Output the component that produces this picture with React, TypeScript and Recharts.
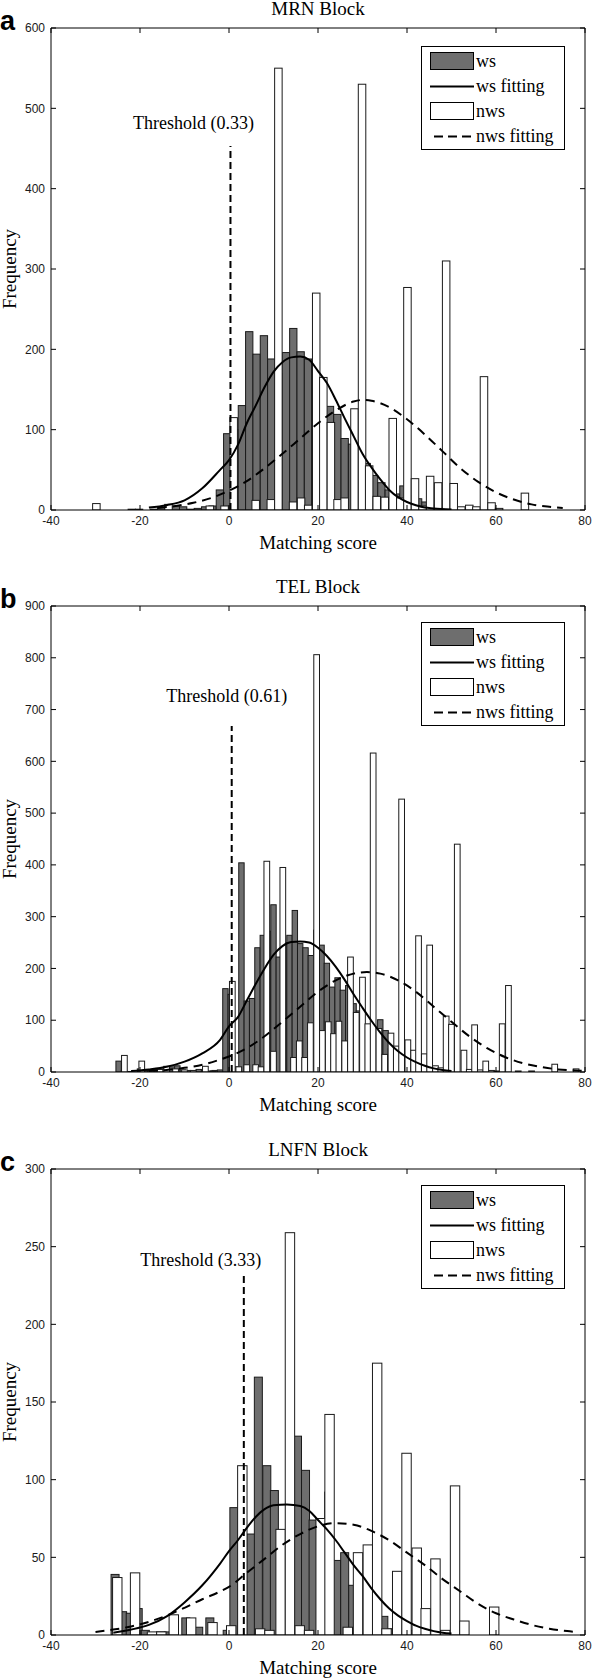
import {
  ComposedChart,
  Bar,
  Line,
  XAxis,
  YAxis,
  ReferenceLine,
  Legend,
} from "recharts";

// shared x ticks
const xTicks = [-40, -20, 0, 20, 40, 60, 80];

// y ticks per block
const mrnTicks = [0, 100, 200, 300, 400, 500, 600];
const telTicks = [0, 100, 200, 300, 400, 500, 600, 700, 800, 900];
const lnfnTicks = [0, 50, 100, 150, 200, 250, 300];

// histogram bins: [bin centre, count]
const mrnWs: [number, number][] = [
  [-21.85, 1], [-20.2, 1], [-16.9, 1], [-15.25, 3], [-13.6, 4], [-11.95, 5], [-10.3, 4],
  [-8.65, 1], [-7.0, 2], [-5.35, 4], [-3.7, 5], [-2.05, 25], [-0.4, 95], [1.25, 100],
  [2.9, 130], [4.55, 222], [6.2, 194], [7.85, 217], [9.5, 188], [11.15, 170], [12.8, 196],
  [14.45, 226], [16.1, 197], [17.75, 188], [19.4, 183], [21.05, 150], [22.7, 129], [24.35, 119],
  [26.0, 89], [27.65, 82], [29.3, 78], [30.95, 58], [32.6, 43], [34.25, 34], [35.9, 25],
  [37.55, 20], [39.2, 30], [40.85, 18], [42.5, 14], [44.15, 10], [45.8, 6], [47.45, 3],
  [49.1, 2], [50.75, 2],
];
const mrnNws: [number, number][] = [
  [-29.8, 8], [-13.6, 7], [-4.3, 5], [-1.0, 5], [1.05, 115], [6.0, 12], [9.4, 13],
  [11.1, 550], [14.4, 10], [16.2, 15], [17.8, 6], [19.6, 270], [21.2, 165], [22.9, 109],
  [24.4, 13], [26.0, 15], [28.2, 126], [29.9, 530], [31.5, 55], [33.2, 17], [35.0, 16],
  [36.8, 114], [38.5, 15], [40.1, 277], [41.8, 39], [43.5, 5], [45.2, 42], [47.0, 34],
  [48.8, 310], [50.5, 33], [52.2, 4], [54.0, 6], [55.6, 4], [57.3, 166], [59.0, 9],
  [60.7, 2], [66.5, 21],
];
const mrnWsFit: [number, number][] = [
  [-18, 3], [-14, 6], [-10, 12], [-6, 27], [-2, 50], [0, 62], [2, 81], [4, 108], [6, 130],
  [8, 153], [10, 172], [12, 184], [14, 190], [16, 191], [18, 187], [20, 173], [22, 158],
  [24, 137], [26, 114], [28, 92], [30, 70], [32, 53], [34, 38], [36, 25], [38, 16], [40, 10],
  [42, 6], [44, 3], [46, 2], [50, 0.5],
];
const mrnNwsFit: [number, number][] = [
  [-16, 2.5], [-12, 5], [-8, 9], [-4, 15], [0, 24], [4, 36], [8, 52], [12, 70], [16, 89],
  [20, 108], [24, 124], [28, 135], [30, 137], [32, 136], [36, 128], [40, 113], [44, 94],
  [48, 73], [52, 52], [56, 35], [60, 22], [64, 13], [68, 7], [72, 4], [75, 2.5],
];

const telWs: [number, number][] = [
  [-24.8, 21], [-23.6, 3], [-22.4, 1], [-20.0, 6], [-18.8, 3], [-17.6, 4], [-16.4, 5],
  [-15.2, 6], [-14.0, 7], [-12.8, 10], [-11.6, 12], [-10.4, 4], [-9.2, 3], [-8.0, 2],
  [-6.8, 5], [-5.6, 4], [-4.4, 2], [-3.2, 3], [-2.0, 4], [-0.8, 161], [0.4, 150], [1.6, 10],
  [2.8, 404], [4.0, 137], [5.2, 142], [6.4, 240], [7.6, 264], [8.8, 272], [10.0, 323],
  [11.2, 222], [12.4, 250], [13.6, 264], [14.8, 312], [16.0, 248], [17.2, 240], [18.4, 225],
  [19.6, 274], [20.8, 245], [22.0, 210], [23.2, 164], [24.4, 182], [25.6, 158], [26.8, 167],
  [28.0, 132], [29.2, 118], [30.4, 80], [31.6, 84], [32.8, 60], [34.0, 101], [35.2, 80],
  [36.4, 45], [37.6, 35], [38.8, 48], [40.0, 45], [41.2, 30], [42.4, 24], [43.6, 16],
  [44.8, 10], [46.0, 6], [47.2, 5], [48.4, 4], [49.6, 2], [50.8, 1],
];
const telNws: [number, number][] = [
  [-23.5, 32], [-19.6, 21], [-17.5, 3], [-15.5, 5], [-14.0, 11], [-12.0, 6], [-10.0, 4],
  [-8.0, 3], [-5.3, 11], [-3.5, 2], [0.75, 175], [2.2, 10], [4.0, 14], [6.0, 14], [7.2, 10],
  [8.5, 407], [10.0, 40], [12.1, 395], [14.5, 28], [15.8, 60], [17.0, 28], [18.3, 95],
  [19.7, 806], [21.0, 80], [22.3, 97], [23.5, 74], [24.7, 98], [26.0, 60], [27.3, 222],
  [28.6, 115], [30.0, 183], [31.2, 93], [32.4, 616], [33.7, 84], [35.0, 34], [36.4, 75],
  [37.6, 50], [38.8, 527], [40.2, 62], [41.5, 42], [42.6, 263], [43.9, 35], [45.1, 245],
  [46.4, 12], [47.6, 8], [48.8, 108], [50.0, 92], [51.3, 440], [52.8, 42], [54.0, 5],
  [55.2, 91], [56.5, 4], [57.7, 21], [59.0, 3], [60.2, 2], [61.4, 93], [62.8, 167],
  [65.0, 2], [68.0, 2], [73.2, 15], [78.0, 6],
];
const telWsFit: [number, number][] = [
  [-22, 2], [-18, 5], [-14, 10], [-10, 20], [-6, 36], [-2, 62], [0, 88], [2, 106], [4, 138],
  [6, 170], [8, 200], [10, 226], [12, 243], [14, 251], [16, 252], [18, 250], [20, 240],
  [22, 224], [24, 203], [26, 178], [28, 150], [30, 124], [32, 99], [34, 76], [36, 56],
  [38, 40], [40, 28], [42, 19], [44, 12], [46, 7], [48, 4], [50, 2],
];
const telNwsFit: [number, number][] = [
  [-18, 2], [-14, 4], [-10, 8], [-6, 14], [-2, 24], [0, 30], [4, 46], [8, 69], [12, 97],
  [16, 126], [20, 155], [24, 177], [28, 190], [31, 193], [34, 190], [38, 177], [42, 155],
  [46, 126], [50, 97], [54, 69], [58, 46], [62, 29], [66, 17], [70, 10], [74, 5], [78, 3],
  [80, 2],
];

const lnfnWs: [number, number][] = [
  [-25.6, 39], [-23.9, 15], [-22.2, 14], [-20.4, 17], [-18.8, 3], [-15.3, 2], [-13.6, 2],
  [-9.7, 11], [-6.8, 5], [-4.3, 11], [-0.4, 3], [1.1, 82], [3.0, 31], [4.9, 65], [6.6, 166],
  [8.5, 109], [10.2, 93], [11.9, 67], [13.7, 86], [15.4, 128], [17.2, 106], [18.9, 74],
  [20.6, 73], [22.4, 92], [24.2, 48], [26.0, 53], [27.8, 32], [29.6, 36], [31.3, 23],
  [33.0, 23], [34.8, 12], [36.5, 4], [38.3, 4], [40.0, 3], [41.8, 3], [43.5, 3], [45.3, 2],
];
const lnfnNws: [number, number][] = [
  [-25.1, 37], [-21.1, 40], [-17.3, 2], [-15.2, 2], [-12.4, 13], [-8.5, 11], [-3.7, 8],
  [0.5, 6], [3.0, 109], [7.0, 4], [9.1, 3], [11.6, 68], [13.7, 259], [15.9, 6], [18.0, 3],
  [20.6, 75], [22.6, 142], [26.7, 5], [29.0, 53], [31.2, 58], [33.3, 175], [35.4, 4],
  [37.8, 41], [39.9, 117], [42.2, 56], [44.2, 17], [46.4, 49], [48.6, 3], [50.8, 96],
  [52.9, 9], [59.6, 18],
];
const lnfnWsFit: [number, number][] = [
  [-26, 1.5], [-22, 3.5], [-18, 6.5], [-14, 12], [-10, 21], [-6, 32], [-2, 46], [0, 54],
  [2, 61], [4, 69], [6, 76], [8, 81], [10, 83.5], [13, 84], [16, 83], [18, 80], [20, 74],
  [22, 68], [24, 61], [26, 53], [28, 45], [30, 38], [32, 30], [34, 23], [36, 17], [38, 12.5],
  [40, 9], [42, 6], [44, 4], [46, 2.5], [48, 1.5], [50, 1],
];
const lnfnNwsFit: [number, number][] = [
  [-30, 2], [-26, 3.5], [-22, 5.5], [-18, 8.5], [-14, 12.5], [-10, 17.5], [-6, 23], [-2, 28],
  [0, 31], [4, 40], [8, 49], [12, 58], [16, 65], [20, 70], [24, 72], [28, 71], [32, 67],
  [36, 61], [40, 53], [44, 45], [48, 36], [52, 28], [56, 20], [60, 14], [64, 10], [68, 6.5],
  [72, 4], [76, 2.5], [78, 2],
];

const panels = [
  {
    letter: "a", title: "MRN Block", threshold: 0.33, thresholdTop: 453,
    ws: mrnWs, nws: mrnNws, wsFit: mrnWsFit, nwsFit: mrnNwsFit, yTicks: mrnTicks,
    top: 0, height: 560, plotTop: 28, plotBottom: 510, wsBar: 7.3, nwsBar: 7.5,
    labelDx: -37, labelDy: -17, legendTop: 46,
  },
  {
    letter: "b", title: "TEL Block", threshold: 0.61, thresholdTop: 668,
    ws: telWs, nws: telNws, wsFit: telWsFit, nwsFit: telNwsFit, yTicks: telTicks,
    top: 560, height: 560, plotTop: 46, plotBottom: 512, wsBar: 5.4, nwsBar: 5.7,
    labelDx: -5, labelDy: -24, legendTop: 62,
  },
  {
    letter: "c", title: "LNFN Block", threshold: 3.33, thresholdTop: 232,
    ws: lnfnWs, nws: lnfnNws, wsFit: lnfnWsFit, nwsFit: lnfnNwsFit, yTicks: lnfnTicks,
    top: 1120, height: 559, plotTop: 49, plotBottom: 515, wsBar: 8, nwsBar: 9.4,
    labelDx: -43, labelDy: -9, legendTop: 65,
  },
];

const serif = '"Liberation Serif", "Times New Roman", serif';
const tickStyle = {
  fill: "#1a1a1a",
  fontSize: 12,
  fontFamily: '"Liberation Sans Narrow", "Liberation Sans", sans-serif',
};

function histShape(fill: string, w: number) {
  return (p: any) => {
    if (!(p.height > 0) || !Number.isFinite(p.x)) return <g />;
    const cx = p.x + p.width / 2;
    return (
      <rect
        x={cx - w / 2}
        y={p.y}
        width={w}
        height={p.height}
        fill={fill}
        stroke="#1a1a1a"
        strokeWidth={1}
      />
    );
  };
}

function LegendBox() {
  const row = { display: "flex", alignItems: "center", height: 25 };
  return (
    <div
      style={{
        border: "1px solid #000",
        background: "#fff",
        width: 144,
        height: 104,
        padding: "2px 0 0 8px",
        boxSizing: "border-box",
        fontFamily: serif,
        fontSize: 18,
        color: "#000",
      }}
    >
      <div style={row}>
        <svg width={46} height={19}>
          <rect x={0.5} y={0.5} width={43} height={17} fill="#6e6e6e" stroke="#000" />
        </svg>
        <span>ws</span>
      </div>
      <div style={row}>
        <svg width={46} height={19}>
          <line x1={0} x2={44} y1={9.5} y2={9.5} stroke="#000" strokeWidth={2} />
        </svg>
        <span>ws fitting</span>
      </div>
      <div style={row}>
        <svg width={46} height={19}>
          <rect x={0.5} y={0.5} width={43} height={17} fill="#fff" stroke="#000" />
        </svg>
        <span>nws</span>
      </div>
      <div style={row}>
        <svg width={46} height={19}>
          <line x1={4} x2={44} y1={9.5} y2={9.5} stroke="#000" strokeWidth={2} strokeDasharray="9 5" />
        </svg>
        <span>nws fitting</span>
      </div>
    </div>
  );
}

function Panel({ cfg }: { cfg: (typeof panels)[number] }) {
  const rows = [
    ...cfg.ws.map(([x, v]) => ({ x, ws: v })),
    ...cfg.nws.map(([x, v]) => ({ x, nws: v })),
  ];
  const wsFit = cfg.wsFit.map(([x, y]) => ({ x, y }));
  const nwsFit = cfg.nwsFit.map(([x, y]) => ({ x, y }));
  const yMax = cfg.yTicks[cfg.yTicks.length - 1];
  const plotMid = (cfg.plotTop + cfg.plotBottom) / 2;

  return (
    <div style={{ position: "absolute", left: 0, top: cfg.top, width: 592, height: cfg.height }}>
      <ComposedChart
        width={592}
        height={cfg.height}
        data={rows}
        margin={{ top: cfg.plotTop - 1, right: 2, bottom: cfg.height - cfg.plotBottom - 30, left: 21 }}
      >
        <XAxis
          xAxisId="main"
          type="number"
          dataKey="x"
          domain={[-40, 80]}
          ticks={xTicks}
          interval={0}
          height={30}
          tickSize={-5}
          tickMargin={11}
          stroke="#000"
          tick={tickStyle}
          allowDataOverflow
        />
        <XAxis xAxisId="nws" type="number" dataKey="x" domain={[-40, 80]} hide allowDataOverflow />
        <XAxis
          xAxisId="top"
          orientation="top"
          type="number"
          dataKey="x"
          domain={[-40, 80]}
          ticks={xTicks}
          interval={0}
          height={1}
          tickSize={-5}
          tickFormatter={() => ""}
          stroke="#000"
          allowDataOverflow
        />
        <YAxis
          type="number"
          domain={[0, yMax]}
          ticks={cfg.yTicks}
          interval={0}
          width={30}
          tickSize={-5}
          tickMargin={11}
          stroke="#000"
          tick={tickStyle}
          allowDataOverflow
        />
        <YAxis
          yAxisId="r"
          orientation="right"
          type="number"
          domain={[0, yMax]}
          ticks={cfg.yTicks}
          interval={0}
          width={5}
          tickSize={-5}
          tickFormatter={() => ""}
          stroke="#000"
          allowDataOverflow
        />

        <Bar
          xAxisId="main"
          dataKey="ws"
          barSize={cfg.wsBar}
          shape={histShape("#6e6e6e", cfg.wsBar)}
          isAnimationActive={false}
        />
        <Bar
          xAxisId="nws"
          dataKey="nws"
          barSize={cfg.nwsBar}
          shape={histShape("#ffffff", cfg.nwsBar)}
          isAnimationActive={false}
        />

        <Line
          xAxisId="main"
          data={wsFit}
          dataKey="y"
          type="monotone"
          stroke="#000"
          strokeWidth={2}
          dot={false}
          isAnimationActive={false}
        />
        <Line
          xAxisId="main"
          data={nwsFit}
          dataKey="y"
          type="monotone"
          stroke="#000"
          strokeWidth={2}
          strokeDasharray="9 6"
          dot={false}
          isAnimationActive={false}
        />

        <ReferenceLine
          xAxisId="main"
          segment={[{ x: cfg.threshold, y: 0 }, { x: cfg.threshold, y: cfg.thresholdTop }]}
          stroke="#000"
          strokeWidth={2}
          strokeDasharray="7 4"
          isFront
          label={{
            content: (p: any) => {
              const vb = p.viewBox || { x: 0, y: 0 };
              return (
                <text
                  x={vb.x + cfg.labelDx}
                  y={vb.y + cfg.labelDy}
                  textAnchor="middle"
                  fontFamily={serif}
                  fontSize={18}
                  fill="#000"
                >
                  {`Threshold (${cfg.threshold})`}
                </text>
              );
            },
          }}
        />

        <Legend
          layout="horizontal"
          verticalAlign="middle"
          align="center"
          wrapperStyle={{ left: 421, top: cfg.legendTop, width: 144, height: 104 }}
          content={() => <LegendBox />}
        />
      </ComposedChart>

      <div
        style={{
          position: "absolute",
          left: 51,
          width: 534,
          top: cfg.plotTop - 31,
          textAlign: "center",
          fontFamily: serif,
          fontSize: 19,
          lineHeight: "24px",
        }}
      >
        {cfg.title}
      </div>
      <div
        style={{
          position: "absolute",
          left: 0,
          top: cfg.plotTop - 20,
          fontFamily: '"Liberation Sans", Arial, sans-serif',
          fontWeight: "bold",
          fontSize: 27,
          lineHeight: "27px",
        }}
      >
        {cfg.letter}
      </div>
      <div
        style={{
          position: "absolute",
          left: 10,
          top: plotMid,
          transform: "translate(-50%, -50%) rotate(-90deg)",
          fontFamily: serif,
          fontSize: 19,
          whiteSpace: "nowrap",
        }}
      >
        Frequency
      </div>
      <div
        style={{
          position: "absolute",
          left: 51,
          width: 534,
          top: cfg.plotBottom + 21,
          textAlign: "center",
          fontFamily: serif,
          fontSize: 19,
          lineHeight: "24px",
        }}
      >
        Matching score
      </div>
    </div>
  );
}

export default function App() {
  return (
    <div style={{ position: "absolute", left: 0, top: 0, width: 592, height: 1679, background: "#fff" }}>
      {panels.map((cfg) => (
        <Panel key={cfg.letter} cfg={cfg} />
      ))}
    </div>
  );
}
